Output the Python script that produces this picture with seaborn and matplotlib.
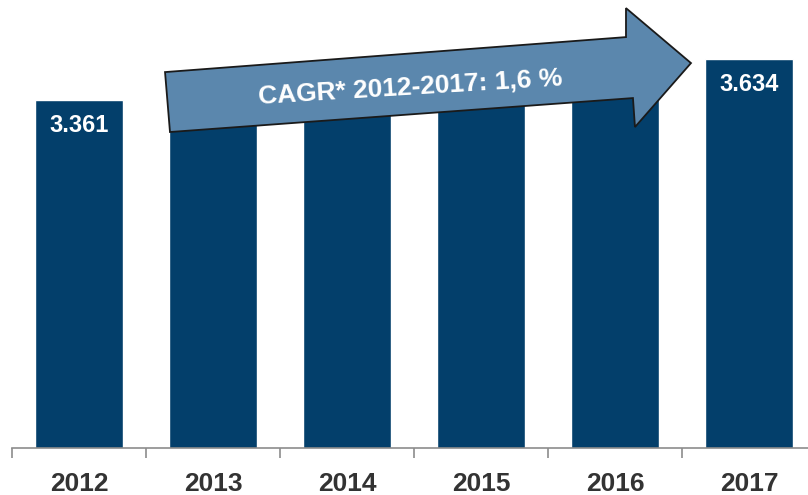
import pandas as pd
import seaborn as sns
import matplotlib.pyplot as plt
from matplotlib.patches import Polygon


# chart data
years = ['2012', '2013', '2014', '2015', '2016', '2017']
values = [3361, 3412, 3468, 3521, 3579, 3634]
labelled = ['2012', '2017']  # only first and last bar carry a value label
cagr_text = 'CAGR* 2012-2017: 1,6 %'

bar_color = '#033f6b'
arrow_color = '#5b87ad'

df = pd.DataFrame({'year': years, 'value': values})

sns.set_style("white")
plt.rcParams['font.family'] = ['Liberation Sans', 'DejaVu Sans']

fig = plt.figure(figsize=(8.08, 4.95), dpi=100)
ax = fig.add_axes([12 / 808, 47 / 495, 804 / 808, 448 / 495])

sns.barplot(data=df, x='year', y='value', order=years, color=bar_color,
            width=0.66, saturation=1, ax=ax)

ax.set_xlim(-0.5, 5.5)
ax.set_ylim(1044, 4027)
ax.set_xlabel('')
ax.set_ylabel('')
ax.set_yticks([])

for s in ['top', 'right', 'left']:
    ax.spines[s].set_visible(False)
ax.spines['bottom'].set_color('#8c8c8c')
ax.spines['bottom'].set_linewidth(1.2)

# ticks sit between the categories, labels in the middle
ax.set_xticks(range(len(years)))
ax.set_xticklabels(years, fontsize=19, fontweight='bold', color='#333333')
ax.set_xticks([i - 0.5 for i in range(len(years) + 1)], minor=True)
ax.tick_params(axis='x', which='minor', bottom=True, length=7, width=1.2,
               color='#8c8c8c', direction='out')
ax.tick_params(axis='x', which='major', bottom=True, length=0, pad=17)

# value labels inside the bars
for i, (yr, v) in enumerate(zip(years, values)):
    if yr in labelled:
        ax.annotate(f'{v:,}'.replace(',', '.'), xy=(i, v), xytext=(0, -18),
                    textcoords='offset points', ha='center', va='center',
                    fontsize=17, fontweight='bold', color='white')

# growth arrow (data coords: category index, value scale)
arrow_pts = [(0.642, 3547), (4.082, 3780), (4.082, 3973), (4.567, 3607),
             (4.149, 3181), (4.134, 3374), (0.679, 3148)]
ax.add_patch(Polygon(arrow_pts, closed=True, facecolor=arrow_color,
                     edgecolor='#1a1a1a', linewidth=1.3, zorder=5))
ax.text(2.47, 3440, cagr_text, rotation=3.5, ha='center', va='center',
        fontsize=19, fontweight='bold', color='white', zorder=6,
        rotation_mode='anchor')

plt.savefig('out.png', dpi=100)
plt.close()
